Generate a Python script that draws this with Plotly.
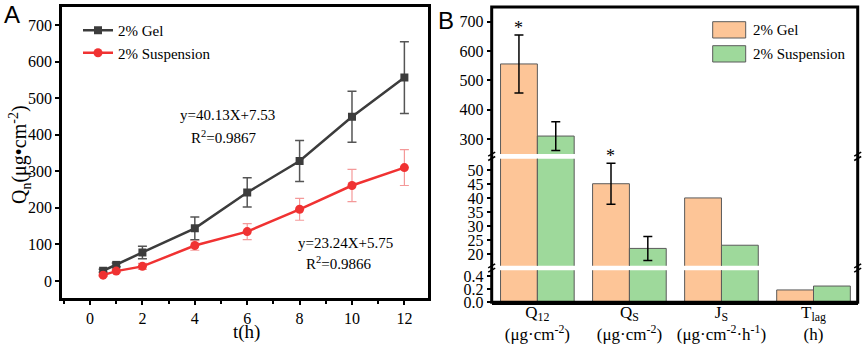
import plotly.graph_objects as go

# ---------------- data ----------------
t_hours = [0.5, 1, 2, 4, 6, 8, 10, 12]
gel_q = [28, 44, 78, 144, 242, 328, 449, 556]
gel_sd = [4, 5, 17, 31, 40, 56, 70, 98]
susp_q = [16, 27, 40, 97, 135, 196, 261, 310]
susp_sd = [3, 4, 8, 13, 22, 30, 44, 49]

param_keys = ["Q12", "QS", "JS", "Tlag"]
param_labels = ["Q<sub>12</sub><br>(μg·cm<sup>-2</sup>)",
                "Q<sub>S</sub><br>(μg·cm<sup>-2</sup>)",
                "J<sub>S</sub><br>(μg·cm<sup>-2</sup>·h<sup>-1</sup>)",
                "T<sub>lag</sub><br>(h)"]
gel_params = [556, 45.2, 40.13, 0.19]
gel_params_sd = [99, 7.3]        # only Q12 and QS carry error bars
susp_params = [310, 22.1, 23.24, 0.25]
susp_params_sd = [49, 4.3]
signif = ["*", "*", "", ""]

series_names = ["2% Gel", "2% Suspension"]
fit_texts = ["y=40.13X+7.53", "R<sup>2</sup>=0.9867", "y=23.24X+5.75", "R<sup>2</sup>=0.9866"]

# ---------------- styling helpers ----------------
W, H = 865, 345
def px(x): return x / W
def py(y): return 1 - y / H

SERIF = "Liberation Serif"
GEL_LINE = "#3c3c3c"
SUSP_LINE = "#f03232"
GEL_BAR = "#fdc597"
SUSP_BAR = "#9ed99b"
BAR_EDGE = "#5a5a5a"

fig = go.Figure()

# ---------------- panel A ----------------
fig.add_trace(go.Scatter(
    x=t_hours, y=gel_q, name=series_names[0], mode="lines+markers",
    line=dict(color=GEL_LINE, width=2.5),
    marker=dict(symbol="square", size=8, color=GEL_LINE),
    error_y=dict(type="data", array=gel_sd, color="#555555", thickness=1.5, width=4.5),
    xaxis="x", yaxis="y", legend="legend"))
fig.add_trace(go.Scatter(
    x=t_hours, y=susp_q, name=series_names[1], mode="lines+markers",
    line=dict(color=SUSP_LINE, width=2.5),
    marker=dict(symbol="circle", size=9, color=SUSP_LINE),
    error_y=dict(type="data", array=susp_sd, color="rgba(240,110,110,0.7)", thickness=1.2, width=4.5),
    xaxis="x", yaxis="y", legend="legend"))

# ---------------- panel B (broken axis: y2 bottom, y3 middle, y4 top) ----------------
for yax in ["y2", "y3", "y4"]:
    fig.add_trace(go.Bar(
        x=param_keys, y=gel_params, name=series_names[0], showlegend=False,
        marker=dict(color=GEL_BAR, line=dict(color=BAR_EDGE, width=1)),
        error_y=dict(type="data", array=gel_params_sd, color="black", thickness=1.5, width=4.5),
        xaxis="x2", yaxis=yax))
    fig.add_trace(go.Bar(
        x=param_keys, y=susp_params, name=series_names[1], showlegend=False,
        marker=dict(color=SUSP_BAR, line=dict(color=BAR_EDGE, width=1)),
        error_y=dict(type="data", array=susp_params_sd, color="black", thickness=1.5, width=4.5),
        xaxis="x2", yaxis=yax))

tickfont = dict(family=SERIF, size=16, color="black")
axis_common = dict(showgrid=False, zeroline=False, ticks="outside", tickwidth=2,
                   ticklen=4, tickcolor="black", tickfont=tickfont, automargin=False)

fig.update_layout(
    width=W, height=H, margin=dict(l=0, r=0, t=0, b=0, autoexpand=False),
    paper_bgcolor="white", plot_bgcolor="rgba(0,0,0,0)",
    barmode="group", bargap=0.2, bargroupgap=0,
    font=dict(family=SERIF, color="black"),
    xaxis=dict(domain=[px(62), px(427.7)], range=[-1.07, 12.89], anchor="y",
               tick0=0, dtick=2, showline=True, mirror=True, linecolor="black", linewidth=2.5,
               minor=dict(dtick=1, ticks="outside", ticklen=3, tickwidth=1.5, tickcolor="black"),
               **axis_common),
    yaxis=dict(domain=[py(298), py(7)], range=[-46.5, 749], anchor="x",
               dtick=100, showline=True, mirror=True, linecolor="black", linewidth=2.5,
               **axis_common),
    xaxis2=dict(domain=[px(491.7), px(857.7)], range=[-0.496, 3.48], anchor="y2",
                type="category", tickvals=param_keys, ticktext=param_labels,
                showgrid=False, zeroline=False, ticks="", showline=True, linecolor="black", linewidth=3,
                automargin=False, ticklabelstandoff=-8,
                tickfont=dict(family=SERIF, size=17, color="black")),
    yaxis2=dict(domain=[py(302.3), py(270.3)], range=[0, 0.492], anchor="x2",
                tickvals=[0, 0.2, 0.4], tickformat=".1f", showline=False, **axis_common),
    yaxis3=dict(domain=[py(265.7), py(158.7)], range=[15.93, 54.14], anchor="x2",
                dtick=5, tick0=0, showline=False, **axis_common),
    yaxis4=dict(domain=[py(154), py(7)], range=[248.8, 750.2], anchor="x2",
                dtick=100, tick0=0, showline=False, **axis_common),
    legend=dict(x=px(78), y=py(14), xanchor="left", yanchor="top",
                bgcolor="rgba(0,0,0,0)", font=dict(family=SERIF, size=15),
                itemwidth=30, tracegroupgap=2),
)

shapes = []
# frame of panel B
shapes.append(dict(type="rect", xref="paper", yref="paper",
                   x0=px(491.7), x1=px(857.7), y0=py(302.3), y1=py(7),
                   line=dict(color="black", width=3), layer="above"))
# axis break marks
for bx in [491.7, 857.7]:
    for by in [156.3, 268.0]:
        for dy in [-2.2, 2.2]:
            shapes.append(dict(type="line", xref="paper", yref="paper",
                               x0=px(bx - 3.5), x1=px(bx + 3.5),
                               y0=py(by + dy + 2), y1=py(by + dy - 2),
                               line=dict(color="black", width=1.5), layer="above"))
# legend swatches panel B
for i, col in enumerate([GEL_BAR, SUSP_BAR]):
    y0 = 21.7 + i * 24
    shapes.append(dict(type="rect", xref="paper", yref="paper",
                       x0=px(712.7), x1=px(745.7), y0=py(y0 + 16.3), y1=py(y0),
                       fillcolor=col, line=dict(color=BAR_EDGE, width=1)))
fig.update_layout(shapes=shapes)

ann = []
# axis titles panel A
ann.append(dict(xref="paper", yref="paper", x=px(246), y=py(332), xanchor="center", yanchor="middle",
                text="t(h)", showarrow=False, font=dict(family=SERIF, size=19, color="black")))
ann.append(dict(xref="paper", yref="paper", x=px(20), y=py(155), xanchor="center", yanchor="middle",
                textangle=-90, text="Q<sub>n</sub>(μg•cm<sup>-2</sup>)", showarrow=False,
                font=dict(family=SERIF, size=20, color="black")))
# legend text panel B
for i, nm in enumerate(series_names):
    ann.append(dict(xref="paper", yref="paper", x=px(750.7), y=py(30 + i * 24),
                    xanchor="left", yanchor="middle", text=nm, showarrow=False,
                    font=dict(family=SERIF, size=15, color="black")))
# fit equations
fit_pos = [(228, 115), (224, 137), (345, 243), (338, 263)]
for txt, (x, y) in zip(fit_texts, fit_pos):
    ann.append(dict(xref="paper", yref="paper", x=px(x), y=py(y), xanchor="center", yanchor="middle",
                    text=txt, showarrow=False, font=dict(family=SERIF, size=15, color="black")))
# significance stars
star_axes = ["y4", "y3", "y3", "y3"]
for i, (k, s, v, ya) in enumerate(zip(param_keys, signif, gel_params, star_axes)):
    if s:
        e = gel_params_sd[i]
        ann.append(dict(xref="x2", yref=ya, x=k, y=v + e, xshift=-18.5, yshift=-5,
                        xanchor="center", yanchor="bottom", text=s, showarrow=False,
                        font=dict(family=SERIF, size=18, color="black")))
# panel letters
ann.append(dict(xref="paper", yref="paper", x=px(11.5), y=py(14), text="A", showarrow=False,
                xanchor="center", yanchor="middle", font=dict(family="Liberation Sans", size=24, color="black")))
ann.append(dict(xref="paper", yref="paper", x=px(445.5), y=py(21), text="B", showarrow=False,
                xanchor="center", yanchor="middle", font=dict(family="Liberation Sans", size=24, color="black")))
fig.update_layout(annotations=ann)

fig.write_html("out.html", config={"displayModeBar": False},
               post_script="document.body.style.margin='0';document.body.style.padding='0';document.body.style.overflow='hidden';")
